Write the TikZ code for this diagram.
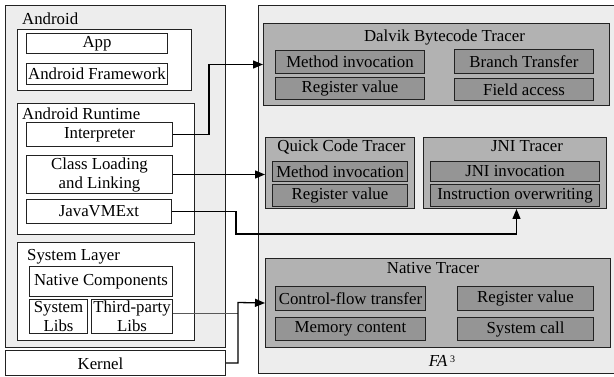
\documentclass[tikz,border=0pt]{standalone}
\usepackage{fontspec}
\setmainfont{Liberation Serif}
\usetikzlibrary{arrows.meta}
\definecolor{outerfill}{HTML}{EDEDED}
\definecolor{tracerfill}{HTML}{B2B2B2}
\definecolor{itemfill}{HTML}{959595}
\definecolor{edgecol}{HTML}{222222}
\newcommand\bx[7]{\node[#6, anchor=north west, minimum width=#4pt, minimum height=#5pt] (#1) at (#2,#3) {#7};}
\tikzset{
  base/.style={draw=edgecol, line width=1pt, inner sep=0pt, align=center},
  outerbox/.style={base, fill=outerfill},
  whitebox/.style={base, fill=white},
  tracerbox/.style={base, fill=tracerfill},
  itembox/.style={base, fill=itemfill},
  lbl/.style={inner sep=0pt, anchor=base west},
  ttl/.style={inner sep=0pt, anchor=base},
  arr/.style={draw=black, line width=1.3pt, -{Triangle[length=10pt,width=8pt]}},
  feed/.style={draw=black!65, line width=1.1pt}
}
\begin{document}
\begin{tikzpicture}[x=1pt,y=-1pt,font=\fontsize{16.8}{19}\selectfont]
\useasboundingbox (0,0) rectangle (614,377);
% Android side
\bx{android}{5}{5}{220}{342}{outerbox}{}
\node[lbl] (androidlbl) at (22,25) {Android};
\bx{grp1}{17}{29}{174}{61}{whitebox}{}
\bx{app}{26}{33}{141}{20}{whitebox}{App}
\bx{fw}{26}{63}{141}{21}{whitebox}{Android Framework}
\bx{rt}{17}{103}{177}{131}{whitebox}{}
\node[lbl] (rtlbl) at (22,119.5) {Android Runtime};
\bx{interp}{26}{122}{146}{24}{whitebox}{Interpreter}
\bx{cl}{26}{155}{146}{38}{whitebox}{Class Loading\\and Linking}
\bx{jvm}{26}{199}{145}{24}{whitebox}{JavaVMExt}
\bx{sl}{17}{242}{177}{98}{whitebox}{}
\node[lbl] (sllbl) at (27,261) {System Layer};
\bx{nc}{29}{266}{143}{30}{whitebox}{Native Components}
\bx{slibs}{29}{299}{58}{34}{whitebox}{System\\Libs}
\bx{tp}{91}{299}{81}{34}{whitebox}{Third-party\\Libs}
\bx{kernel}{5}{350}{220}{25}{whitebox}{}
\node[ttl] (kernellbl) at (100.5,369) {Kernel};
% FA3 side
\bx{fa}{258}{5}{357}{368}{outerbox}{}
\node[inner sep=0pt, anchor=base] (falbl) at (442,366.5) {\textit{FA}\,\raisebox{0.5ex}{\fontsize{10}{12}\selectfont 3}};
\bx{dalvik}{263}{23}{346}{82}{tracerbox}{}
\node[ttl] (dalviklbl) at (444.5,41.5) {Dalvik Bytecode Tracer};
\bx{dmi}{275}{50}{149}{23}{itembox}{Method invocation}
\bx{drv}{275}{77}{149}{22}{itembox}{Register value}
\bx{dbt}{454}{49}{139}{24}{itembox}{Branch Transfer}
\bx{dfa}{454}{78}{139}{22}{itembox}{Field access}
\bx{quick}{265}{137}{149}{71}{tracerbox}{}
\node[ttl] (quicklbl) at (341.5,152) {Quick Code Tracer};
\bx{qmi}{272}{161}{135}{20}{itembox}{Method invocation}
\bx{qrv}{272}{184}{135}{22}{itembox}{Register value}
\bx{jni}{423}{137}{183}{71}{tracerbox}{}
\node[ttl] (jnilbl) at (527,152) {JNI Tracer};
\bx{jinv}{430}{161}{169}{20}{itembox}{JNI invocation}
\bx{jio}{430}{184}{169}{22}{itembox}{Instruction overwriting}
\bx{native}{265}{258}{345}{89}{tracerbox}{}
\node[ttl] (nativelbl) at (433,274) {Native Tracer};
\bx{ncft}{275}{286}{150}{24}{itembox}{Control-flow transfer}
\bx{nrv}{457}{286}{136}{24}{itembox}{Register value}
\bx{nmc}{275}{317}{150}{23}{itembox}{Memory content}
\bx{nsc}{457}{317}{136}{23}{itembox}{System call}
% connectors
\coordinate (j1) at (236,234);
\coordinate (k1) at (238,302.5);
\draw[arr] (interp.east) -- ++(36,0) |- (dalvik.west);
\draw[arr] (cl.east) -- (cl.east -| quick.west);
\draw[arr] (jvm.east) -| (j1) -| ([xshift=1.5pt]jni.south);
\draw[feed] ([yshift=3pt]tp.east) -- ([yshift=3pt]tp.east -| k1);
\draw[arr] (kernel.east) -| (k1) -- (native.west);
\end{tikzpicture}
\end{document}
